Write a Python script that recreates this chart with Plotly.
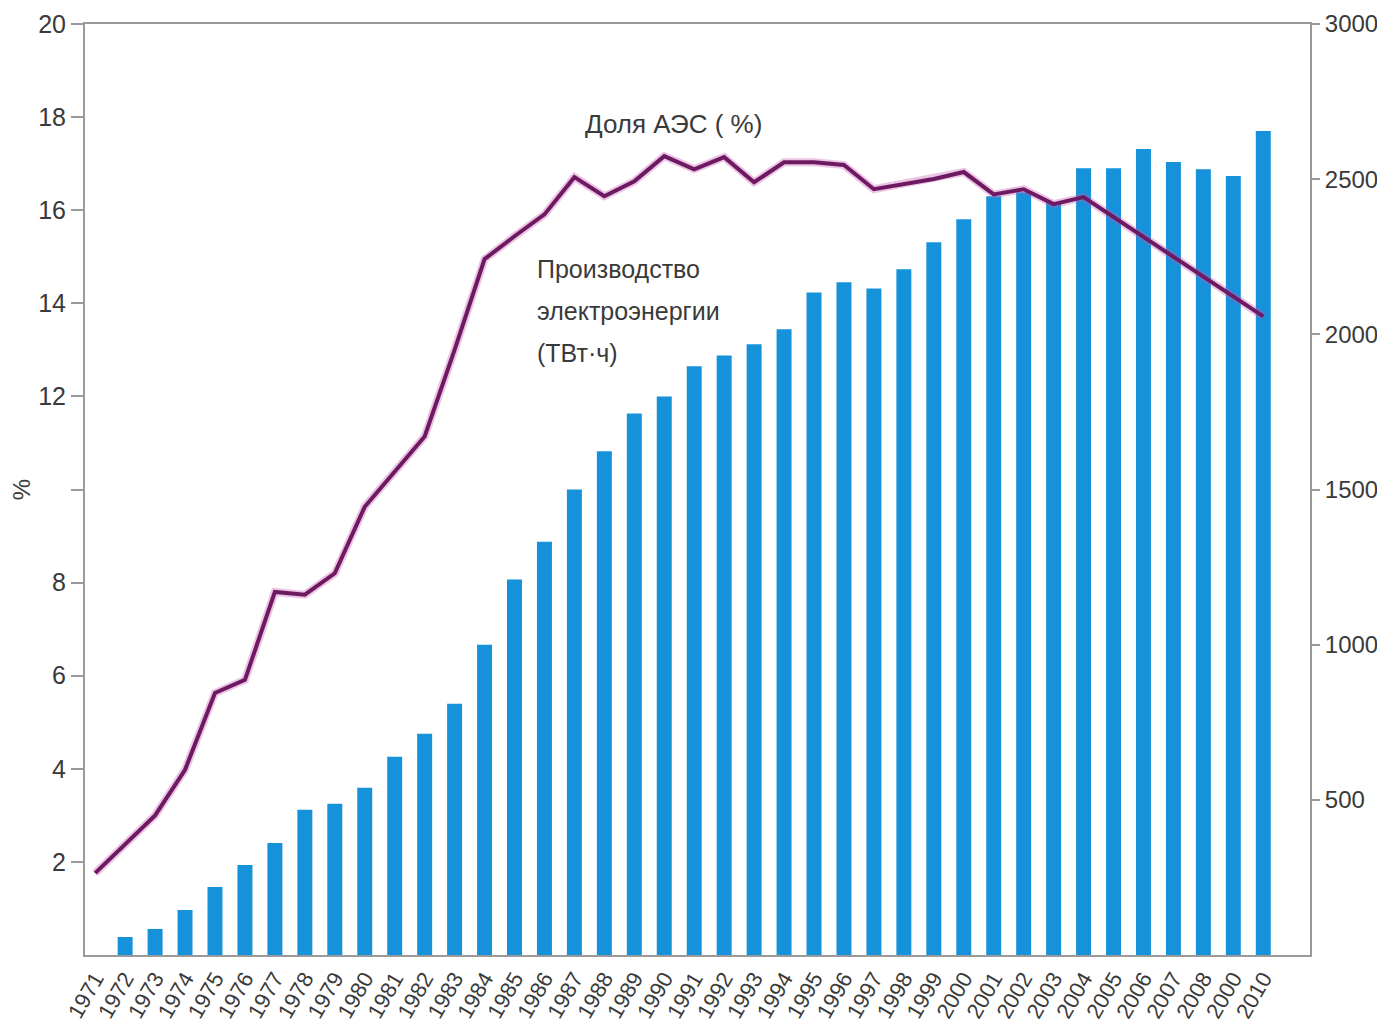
import plotly.graph_objects as go

# years on the x axis and the labels printed under them (the source prints "2000" for 2009)
years = list(range(1971, 2011))
year_labels = [
    "1971", "1972", "1973", "1974", "1975", "1976", "1977", "1978", "1979", "1980",
    "1981", "1982", "1983", "1984", "1985", "1986", "1987", "1988", "1989", "1990",
    "1991", "1992", "1993", "1994", "1995", "1996", "1997", "1998", "1999", "2000",
    "2001", "2002", "2003", "2004", "2005", "2006", "2007", "2008", "2000", "2010",
]

# electricity production at NPPs, TWh (bars, right axis)
production_twh = [
    0, 58, 84, 145, 219, 290, 361, 468, 487, 539,
    639, 713, 810, 1000, 1210, 1332, 1500, 1623, 1745, 1800,
    1897, 1932, 1968, 2016, 2135, 2168, 2148, 2210, 2297, 2371,
    2445, 2458, 2426, 2535, 2535, 2597, 2555, 2532, 2510, 2655,
]

# share of NPPs, % (line, left axis)
nuclear_share = [
    1.76, 2.37, 3.0, 3.98, 5.63, 5.91, 7.8, 7.74, 8.2, 9.63,
    10.37, 11.14, 13.0, 14.95, 15.44, 15.91, 16.71, 16.30, 16.62, 17.16,
    16.88, 17.14, 16.60, 17.03, 17.03, 16.97, 16.45, 16.56, 16.67, 16.82,
    16.34, 16.45, 16.13, 16.28, 15.85, 15.42, 14.99, 14.56, 14.13, 13.72,
]

left_ticks = [2, 4, 6, 8, 10, 12, 14, 16, 18, 20]
left_ticktext = ["2", "4", "6", "8", "", "12", "14", "16", "18", "20"]
right_ticks = [500, 1000, 1500, 2000, 2500, 3000]

bar_label_lines = ["Производство", "электроэнергии", "(ТВт·ч)"]

FONT = "Liberation Sans, Arial, sans-serif"
TXT = "#3a3a3a"
AXIS = "#9a9a9a"

fig = go.Figure()

# bars go on 'y' (drawn first), the line on 'y2' so it sits on top
fig.add_trace(go.Bar(
    x=years, y=production_twh,
    width=0.5,
    marker=dict(color="#1692DA", line=dict(width=0)),
    yaxis="y",
    hoverinfo="x+y",
))

# soft halo under the line
fig.add_trace(go.Scatter(
    x=years, y=nuclear_share,
    mode="lines",
    line=dict(color="rgba(200,90,180,0.35)", width=8),
    yaxis="y2",
    hoverinfo="skip",
))
fig.add_trace(go.Scatter(
    x=years, y=nuclear_share,
    mode="lines",
    line=dict(color="#6E1A62", width=4),
    yaxis="y2",
))

fig.add_annotation(
    x=1987.3, y=17.85, xref="x", yref="y2",
    xanchor="left",
    text="Доля АЭС ( %)", showarrow=False,
    font=dict(family=FONT, size=26, color=TXT),
)
# three lines spaced like the original label
for i, line in enumerate(bar_label_lines):
    fig.add_annotation(
        x=1985.7, y=14.73 - i * 0.9, xref="x", yref="y2",
        xanchor="left", yanchor="middle",
        text=line, showarrow=False,
        font=dict(family=FONT, size=25, color=TXT),
    )

# page body has an 8px margin on every side; keep the figure inside the window
fig.update_layout(
    width=1369, height=1018,
    paper_bgcolor="white",
    plot_bgcolor="white",
    showlegend=False,
    margin=dict(l=77, r=67, t=16, b=71, autoexpand=False),
    font=dict(family=FONT, color=TXT),
    xaxis=dict(
        range=[1970.66, 2011.56],
        tickmode="array",
        tickvals=years,
        ticktext=year_labels,
        tickangle=-60,
        tickfont=dict(size=22, color=TXT),
        showgrid=False, zeroline=False,
        showline=True, linecolor=AXIS, linewidth=2, mirror=True,
        ticks="",
        automargin=False,
    ),
    yaxis=dict(
        side="right",
        range=[0, 3000],
        tickmode="array",
        tickvals=right_ticks,
        tickfont=dict(size=24, color=TXT),
        showgrid=False, zeroline=False,
        showline=True, linecolor=AXIS, linewidth=2,
        ticks="outside", ticklen=8, tickcolor=AXIS, tickwidth=2,
        automargin=False,
    ),
    yaxis2=dict(
        side="left",
        overlaying="y",
        range=[0, 20],
        tickmode="array",
        tickvals=left_ticks,
        ticktext=left_ticktext,
        tickfont=dict(size=25, color=TXT),
        title=dict(text="%", font=dict(size=24, color=TXT), standoff=30),
        showgrid=False, zeroline=False,
        showline=True, linecolor=AXIS, linewidth=2,
        ticks="outside", ticklen=12, tickcolor=AXIS, tickwidth=2,
        automargin=False,
    ),
)

fig.write_html("out.html")
